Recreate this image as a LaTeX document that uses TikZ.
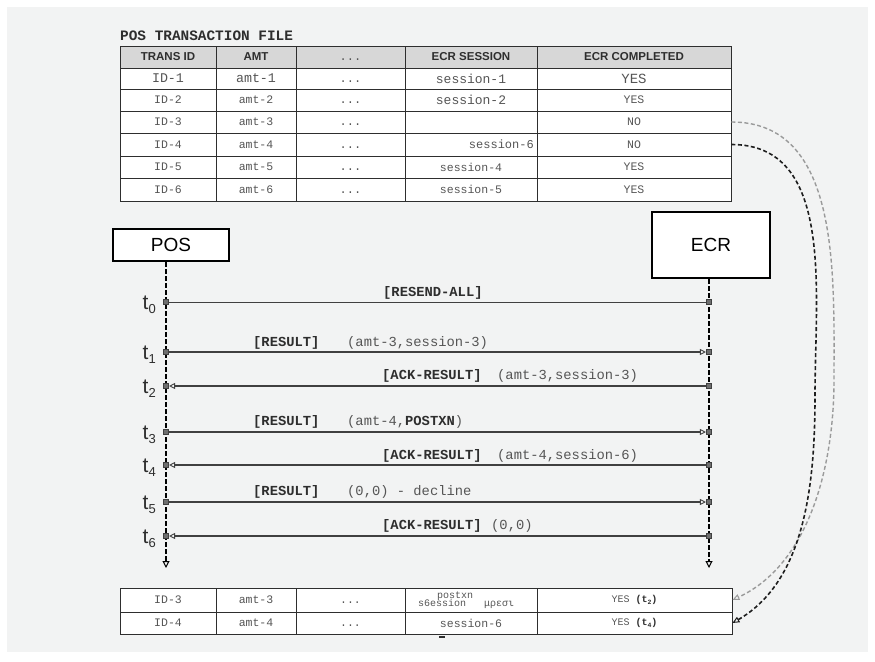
\documentclass[tikz,border=0pt]{standalone}
\usepackage{fontspec}
\setmainfont{Liberation Sans}
\setmonofont{Liberation Mono}
\usetikzlibrary{arrows.meta}
\definecolor{bgc}{HTML}{F2F3F3}
\definecolor{hdrc}{HTML}{D7D7D7}
\definecolor{txtc}{HTML}{555555}
\definecolor{dkc}{HTML}{2E2E2E}
\definecolor{lnc}{HTML}{404040}
\definecolor{sqc}{HTML}{6E6E6E}
\definecolor{gcurve}{HTML}{9A9A9A}
\definecolor{dcurve}{HTML}{1E1E1E}
\newcommand\mtx[2]{{\ttfamily\fontsize{#1}{#1}\selectfont\color{txtc}\vphantom{ID}#2}}
\newcommand\htx[1]{{\bfseries\fontsize{11.5}{11.5}\selectfont\color{dkc}#1}}
\newcommand\cellnode[7]{\node[cell, fill=#6, minimum width={(#3-#2)*1pt}, minimum height={(#5-#4)*1pt}] (#1) at ({(#2+#3)/2},{(#4+#5)/2}) {#7};}
\newcommand\tsub[1]{\raisebox{-4.5pt}{\fontsize{13}{13}\selectfont #1}}
\newcommand\ysub[1]{{\color{dkc}\bfseries(t\raisebox{-1.5pt}{\fontsize{6.5}{6.5}\selectfont #1})}}
\begin{document}
\begin{tikzpicture}[x=1pt,y=-1pt,
 cell/.style={draw=dkc, line width=0.9pt, inner sep=0pt},
 sqnode/.style={draw=lnc, fill=sqc, line width=0.6pt, minimum size=5.5pt, inner sep=0pt},
 msgthin/.style={draw=lnc, line width=0.9pt},
 msg/.style={draw=lnc, line width=1.8pt},
 ahead/.style={-{Triangle[open,length=6pt,width=6pt,line width=0.9pt]}},
 lifeline/.style={draw=black, line width=1.8pt, dash pattern=on 4.5pt off 2.5pt, -{Triangle[open,length=7pt,width=7pt,line width=1pt]}},
 actor/.style={draw=black, line width=2.4pt, fill=white, inner sep=0pt, font=\fontsize{19}{19}\selectfont},
 tlab/.style={anchor=base east, font=\fontsize{21}{21}\selectfont, text=dkc, inner sep=0pt},
 lblb/.style={anchor=base west, inner sep=0pt, font=\ttfamily\bfseries\fontsize{13.8}{13.8}\selectfont, text=dkc},
 lbla/.style={anchor=base west, inner sep=0pt, font=\ttfamily\fontsize{13.8}{13.8}\selectfont, text=txtc},
 freetxt/.style={inner sep=0pt},
 gcurvestyle/.style={draw=gcurve, line width=1.4pt, dash pattern=on 4pt off 2.5pt, -{Triangle[open,length=7pt,width=6pt,line width=1pt]}},
 dcurvestyle/.style={draw=dcurve, line width=1.6pt, dash pattern=on 4pt off 2.5pt, -{Triangle[open,length=7pt,width=6pt,line width=1pt]}}
]
\useasboundingbox (0,0) rectangle (875,661);
\fill[white] (0,0) rectangle (875,661);
\fill[bgc] (7,7) rectangle (868,652);

% title
\node[anchor=base west, inner sep=0pt, font=\ttfamily\bfseries\fontsize{14.4}{14.4}\selectfont, text=dkc] (title) at (120,41) {POS TRANSACTION FILE};

% top table header
\cellnode{hA}{120}{216}{46}{68}{hdrc}{\htx{TRANS ID}}
\cellnode{hB}{216}{296}{46}{68}{hdrc}{\htx{AMT}}
\cellnode{hC}{296}{405}{46}{68}{hdrc}{\mtx{12}{...}}
\cellnode{hD}{405}{537}{46}{68}{hdrc}{\htx{ECR SESSION}}
\cellnode{hE}{537}{731}{46}{68}{hdrc}{\htx{ECR COMPLETED}}
% row 1
\cellnode{r1a}{120}{216}{68}{89}{white}{\mtx{13.3}{ID-1}}
\cellnode{r1b}{216}{296}{68}{89}{white}{\mtx{13.3}{amt-1}}
\cellnode{r1c}{296}{405}{68}{89}{white}{\mtx{12}{...}}
\cellnode{r1d}{405}{537}{68}{89}{white}{\mtx{13}{session-1}}
\cellnode{r1e}{537}{731}{68}{89}{white}{\mtx{14}{YES}}
% row 2
\cellnode{r2a}{120}{216}{89}{111}{white}{\mtx{11.5}{ID-2}}
\cellnode{r2b}{216}{296}{89}{111}{white}{\mtx{11.5}{amt-2}}
\cellnode{r2c}{296}{405}{89}{111}{white}{\mtx{12}{...}}
\cellnode{r2d}{405}{537}{89}{111}{white}{\mtx{13}{session-2}}
\cellnode{r2e}{537}{731}{89}{111}{white}{\mtx{11.5}{YES}}
% row 3
\cellnode{r3a}{120}{216}{111}{133}{white}{\mtx{11.5}{ID-3}}
\cellnode{r3b}{216}{296}{111}{133}{white}{\mtx{11.5}{amt-3}}
\cellnode{r3c}{296}{405}{111}{133}{white}{\mtx{12}{...}}
\cellnode{r3d}{405}{537}{111}{133}{white}{}
\cellnode{r3e}{537}{731}{111}{133}{white}{\mtx{11.5}{NO}}
% row 4
\cellnode{r4a}{120}{216}{133}{156}{white}{\mtx{11.5}{ID-4}}
\cellnode{r4b}{216}{296}{133}{156}{white}{\mtx{11.5}{amt-4}}
\cellnode{r4c}{296}{405}{133}{156}{white}{\mtx{12}{...}}
\cellnode{r4d}{405}{537}{133}{156}{white}{}
\node[freetxt, anchor=east] (r4dt) at (534,144.5) {\mtx{12}{session-6}};
\cellnode{r4e}{537}{731}{133}{156}{white}{\mtx{11.5}{NO}}
% row 5
\cellnode{r5a}{120}{216}{156}{178}{white}{\mtx{11.5}{ID-5}}
\cellnode{r5b}{216}{296}{156}{178}{white}{\mtx{11.5}{amt-5}}
\cellnode{r5c}{296}{405}{156}{178}{white}{\mtx{12}{...}}
\cellnode{r5d}{405}{537}{156}{178}{white}{\mtx{11.5}{session-4}}
\cellnode{r5e}{537}{731}{156}{178}{white}{\mtx{11.5}{YES}}
% row 6
\cellnode{r6a}{120}{216}{178}{201}{white}{\mtx{11.5}{ID-6}}
\cellnode{r6b}{216}{296}{178}{201}{white}{\mtx{11.5}{amt-6}}
\cellnode{r6c}{296}{405}{178}{201}{white}{\mtx{12}{...}}
\cellnode{r6d}{405}{537}{178}{201}{white}{\mtx{11.5}{session-5}}
\cellnode{r6e}{537}{731}{178}{201}{white}{\mtx{11.5}{YES}}

% actors
\node[actor, minimum width=116pt, minimum height=32pt] (pos) at (171,245) {POS};
\node[actor, minimum width=118pt, minimum height=66pt] (ecr) at (711,245) {ECR};
\coordinate (posend) at (166,568);
\coordinate (ecrend) at (709,568);
\draw[lifeline] (posend |- pos.south) -- (posend);
\draw[lifeline] (ecrend |- ecr.south) -- (ecrend);

% squares on lifelines
\foreach \i/\yy in {0/302,1/352,2/386,3/432,4/465,5/502,6/536}{
  \node[sqnode] (p\i) at (166,\yy) {};
  \node[sqnode] (e\i) at (709,\yy) {};
}
% messages
\draw[msgthin] (p0) -- (e0);
\draw[msg, ahead] (p1) -- (e1);
\draw[msg, ahead] (e2) -- (p2);
\draw[msg, ahead] (p3) -- (e3);
\draw[msg, ahead] (e4) -- (p4);
\draw[msg, ahead] (p5) -- (e5);
\draw[msg, ahead] (e6) -- (p6);

% time labels
\foreach \i/\yy in {0/302,1/352,2/386,3/432,4/465,5/502,6/536}{
  \node[tlab] (tl\i) at (156,\yy+7) {t\tsub{\i}};
}

% message labels
\node[lblb] (m0a) at (383,296) {[RESEND-ALL]};
\node[lblb] (m1a) at (253,346) {[RESULT]};
\node[lbla] (m1b) at (347,346) {(amt-3,session-3)};
\node[lblb] (m2a) at (382,379) {[ACK-RESULT]};
\node[lbla] (m2b) at (497,379) {(amt-3,session-3)};
\node[lblb] (m3a) at (253,425) {[RESULT]};
\node[lbla] (m3b) at (347,425) {(amt-4,\textcolor{dkc}{\bfseries POSTXN})};
\node[lblb] (m4a) at (382,459) {[ACK-RESULT]};
\node[lbla] (m4b) at (497,459) {(amt-4,session-6)};
\node[lblb] (m5a) at (253,495) {[RESULT]};
\node[lbla] (m5b) at (347,495) {(0,0) - decline};
\node[lblb] (m6a) at (382,529) {[ACK-RESULT]};
\node[lbla] (m6b) at (491,529) {(0,0)};

% bottom table
\cellnode{b1a}{120}{216}{588}{612}{white}{\mtx{11.5}{ID-3}}
\cellnode{b1b}{216}{296}{588}{612}{white}{\mtx{11.5}{amt-3}}
\cellnode{b1c}{296}{405}{588}{612}{white}{\mtx{11.5}{...}}
\cellnode{b1d}{405}{537}{588}{612}{white}{}
\node[freetxt, anchor=base west] (b1dt1) at (418,606) {\mtx{10}{s6ession}};
\node[freetxt, anchor=base west] (b1dt2) at (437,598) {\mtx{10}{postxn}};
\node[freetxt, anchor=base west] (b1dt3) at (484,606) {\mtx{10}{μρεσι}};
\cellnode{b1e}{537}{732}{588}{612}{white}{\mtx{10}{YES \ysub{2}}}
\cellnode{b2a}{120}{216}{612}{634}{white}{\mtx{11.5}{ID-4}}
\cellnode{b2b}{216}{296}{612}{634}{white}{\mtx{11.5}{amt-4}}
\cellnode{b2c}{296}{405}{612}{634}{white}{\mtx{11.5}{...}}
\cellnode{b2d}{405}{537}{612}{634}{white}{\mtx{11.5}{session-6}}
\cellnode{b2e}{537}{732}{612}{634}{white}{\mtx{10}{YES \ysub{4}}}
\fill[dkc] (439,636) rectangle (445,638);

% curved links
\coordinate (gmid) at (834,380);
\coordinate (dmid) at (815,395);
\draw[gcurvestyle] (r3e.east) to[out=0,in=90] (gmid) to[out=-90,in=25,looseness=0.9] (b1e.east);
\draw[dcurvestyle] (r4e.east) to[out=0,in=90] (dmid) to[out=-90,in=30,looseness=0.9] (b2e.east);
\end{tikzpicture}
\end{document}
